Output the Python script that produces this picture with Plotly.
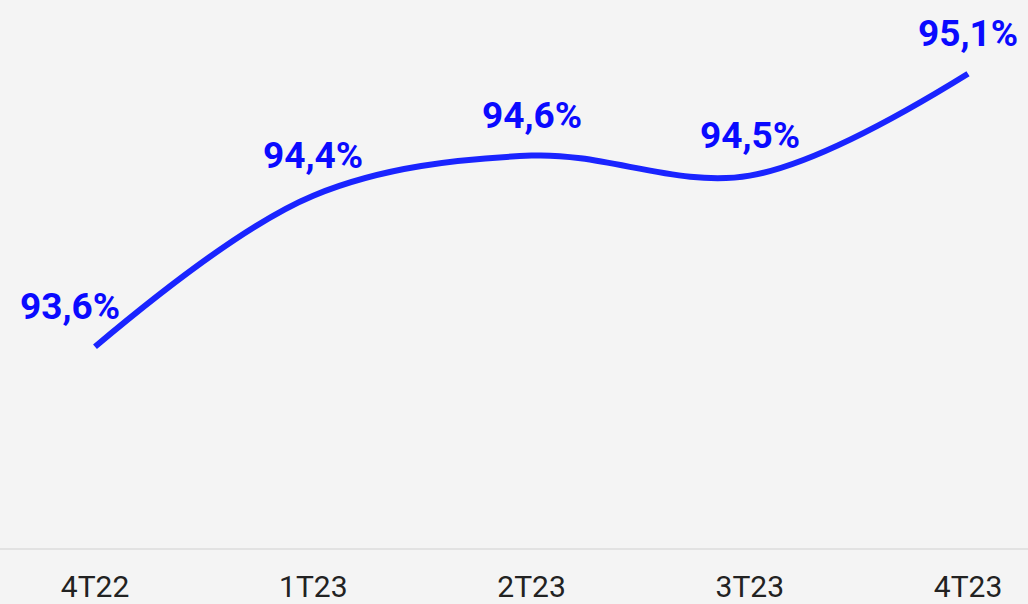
import plotly.graph_objects as go

categories = ["4T22", "1T23", "2T23", "3T23", "4T23"]
values = [93.6, 94.43, 94.65, 94.54, 95.1]
labels = ["93,6%", "94,4%", "94,6%", "94,5%", "95,1%"]
label_xshift = [-25, 0, 0, 0, 0]

BG = "#f4f4f4"
LINE = "#1a24ff"
LABEL = "#0a0aff"

fig = go.Figure()
fig.add_trace(go.Scatter(
    x=categories, y=values, mode="lines",
    line=dict(color=LINE, width=6, shape="spline", smoothing=1),
    hoverinfo="skip",
))

for c, v, t, dx in zip(categories, values, labels, label_xshift):
    fig.add_annotation(
        x=c, y=v, text=t, showarrow=False, xshift=dx, yshift=40,
        xanchor="center", yanchor="middle",
        font=dict(family="Roboto", size=37, color=LABEL, weight="bold"),
    )

fig.update_layout(
    width=1028, height=604,
    margin=dict(l=0, r=0, t=4, b=47),
    paper_bgcolor=BG, plot_bgcolor=BG,
    showlegend=False,
    xaxis=dict(
        type="category", range=[-0.4353, 4.2749],
        showgrid=False, zeroline=False,
        showline=True, linecolor="#e2e2e2", linewidth=2,
        ticks="outside", ticklen=11, tickcolor=BG,
        tickfont=dict(family="Roboto", size=30, color="#222222"),
    ),
    yaxis=dict(
        range=[92.494, 95.483], visible=False, showgrid=False, zeroline=False,
    ),
)

fig.write_html(
    "out.html",
    config={"displayModeBar": False, "staticPlot": True},
    post_script="document.body.style.margin='0';document.body.style.overflow='hidden';",
)
